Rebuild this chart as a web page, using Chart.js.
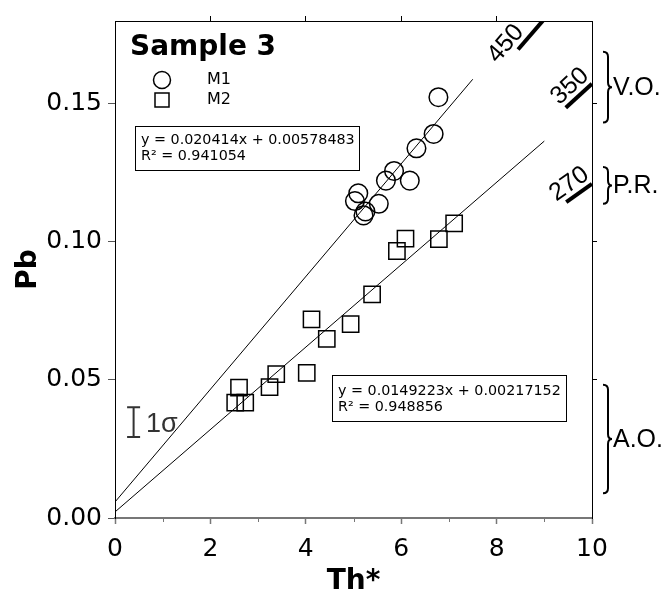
<!DOCTYPE html>
<html>
<head>
<meta charset="utf-8">
<script src="https://cdn.jsdelivr.net/npm/chart.js@4"></script>
<style>
  html, body { margin: 0; padding: 0; background: #fff; }
</style>
</head>
<body>
<canvas id="chart" width="666" height="600"></canvas>
<script>
// sample data
const m1X = [6.78, 6.68, 6.32, 5.85, 5.68, 6.18, 5.10, 5.03, 5.53, 5.21, 5.25];
const m1Y = [0.1524, 0.1391, 0.1339, 0.1257, 0.1222, 0.1222, 0.1176, 0.1148, 0.1138, 0.1096, 0.1110];
const m2X = [7.11, 6.79, 6.09, 5.91, 5.39, 4.12, 4.94, 4.44, 4.02, 3.38, 3.24, 2.60, 2.52, 2.73];
const m2Y = [0.1067, 0.1010, 0.1012, 0.0967, 0.0810, 0.0719, 0.0702, 0.0649, 0.0526, 0.0521, 0.0474, 0.0472, 0.0418, 0.0418];

// regression lines (end points) and their labels
const fit1X = [0, 7.5];
const fit1Y = [0.0058, 0.1589];
const fit2X = [0, 9.0];
const fit2Y = [0.0022, 0.1365];
const fit1Text = ['y = 0.020414x + 0.00578483', 'R² = 0.941054'];
const fit2Text = ['y = 0.0149223x + 0.00217152', 'R² = 0.948856'];

// reference age segments
const ageLabels = ['450', '350', '270'];
const ageX0 = [8.45, 9.45, 9.46];
const ageY0 = [0.1697, 0.1486, 0.1144];
const ageX1 = [9.0, 10.0, 10.0];
const ageY1 = [0.1807, 0.1573, 0.1210];
const ageLabelX = [8.40, 9.72, 9.68];

// zones on the right
const zoneLabels = ['V.O.', 'P.R.', 'A.O.'];
const zoneTop = [0.1689, 0.1271, 0.0483];
const zoneBottom = [0.1432, 0.1138, 0.0090];

const sigmaX = 0.39;
const sigmaY = [0.0293, 0.0401];

const xTicks = [0, 2, 4, 6, 8, 10];
const xMinor = [1, 3, 5, 7, 9];
const yTicks = [0, 0.05, 0.10, 0.15];

const pts = (xs, ys) => xs.map((x, i) => ({x: x, y: ys[i]}));
const hideEnds = ctx => (ctx.tick && (ctx.tick.value === 0 || ctx.tick.value === 10)) ? 'rgba(0,0,0,0)' : '#000';

const extras = {
  id: 'extras',
  afterDraw(chart) {
    const {ctx, chartArea: a, scales: {x, y}} = chart;
    ctx.save();
    ctx.fillStyle = '#000';
    ctx.strokeStyle = '#000';

    // minor ticks on the bottom axis
    ctx.strokeStyle = '#777';
    ctx.lineWidth = 1;
    xMinor.forEach(v => {
      const px = Math.round(x.getPixelForValue(v)) + 0.5;
      ctx.beginPath();
      ctx.moveTo(px, a.bottom + 1);
      ctx.lineTo(px, a.bottom + 4);
      ctx.stroke();
    });
    ctx.strokeStyle = '#000';

    // title
    ctx.font = 'bold 28px "DejaVu Sans"';
    ctx.textAlign = 'left';
    ctx.textBaseline = 'alphabetic';
    ctx.fillText('Sample 3', 130, 55);

    // legend
    ctx.lineWidth = 1.5;
    ctx.beginPath();
    ctx.arc(162, 80, 8.5, 0, Math.PI * 2);
    ctx.stroke();
    ctx.strokeRect(155, 93, 14, 14);
    ctx.font = '16px "DejaVu Sans"';
    ctx.textBaseline = 'middle';
    ctx.fillText('M1', 207, 80);
    ctx.fillText('M2', 207, 100);

    // equation boxes
    ctx.lineWidth = 1;
    ctx.font = '14.3px "DejaVu Sans"';
    ctx.strokeRect(135.5, 126.5, 224, 44);
    ctx.fillText(fit1Text[0], 141, 140);
    ctx.fillText(fit1Text[1], 141, 156);
    ctx.strokeRect(332.5, 375.5, 234, 46);
    ctx.fillText(fit2Text[0], 338, 391);
    ctx.fillText(fit2Text[1], 338, 407);

    // 1 sigma bar
    const sx = x.getPixelForValue(sigmaX);
    const sy0 = y.getPixelForValue(sigmaY[0]);
    const sy1 = y.getPixelForValue(sigmaY[1]);
    ctx.strokeStyle = '#333';
    ctx.lineWidth = 2;
    ctx.beginPath();
    ctx.moveTo(sx, sy0); ctx.lineTo(sx, sy1);
    ctx.moveTo(sx - 6.5, sy0); ctx.lineTo(sx + 6.5, sy0);
    ctx.moveTo(sx - 6.5, sy1); ctx.lineTo(sx + 6.5, sy1);
    ctx.stroke();
    ctx.fillStyle = '#333';
    ctx.font = '27px "Liberation Sans"';
    ctx.textBaseline = 'alphabetic';
    ctx.fillText('1σ', 146, 432);
    ctx.fillStyle = '#000';
    ctx.strokeStyle = '#000';

    // age labels along their segments
    ctx.font = '25px "Liberation Sans"';
    ctx.textAlign = 'center';
    ctx.textBaseline = 'middle';
    ageLabels.forEach((t, i) => {
      const x0 = x.getPixelForValue(ageX0[i]), y0 = y.getPixelForValue(ageY0[i]);
      const x1 = x.getPixelForValue(ageX1[i]), y1 = y.getPixelForValue(ageY1[i]);
      const ang = Math.atan2(y1 - y0, x1 - x0);
      const lx = x.getPixelForValue(ageLabelX[i]);
      const k = (lx - x0) / (x1 - x0);
      const cx = x0 + k * (x1 - x0) + 13 * Math.sin(ang);
      const cy = y0 + k * (y1 - y0) - 13 * Math.cos(ang);
      ctx.save();
      ctx.translate(cx, cy);
      ctx.rotate(ang);
      ctx.fillText(t, 0, 0);
      ctx.restore();
    });

    // braces with zone names
    ctx.lineWidth = 2;
    ctx.textAlign = 'left';
    zoneLabels.forEach((t, i) => {
      const top = y.getPixelForValue(zoneTop[i]);
      const bot = y.getPixelForValue(zoneBottom[i]);
      const mid = (top + bot) / 2;
      const x0 = a.right + 11, x1 = a.right + 16, xt = a.right + 20;
      ctx.beginPath();
      ctx.moveTo(x0, top);
      ctx.quadraticCurveTo(x1, top, x1, top + 5);
      ctx.lineTo(x1, mid - 5);
      ctx.quadraticCurveTo(x1, mid, xt, mid);
      ctx.quadraticCurveTo(x1, mid, x1, mid + 5);
      ctx.lineTo(x1, bot - 5);
      ctx.quadraticCurveTo(x1, bot, x0, bot);
      ctx.stroke();
      ctx.fillText(t, xt + 1, mid + 1);
    });
    ctx.restore();
  }
};

const lineSet = (xs, ys, w) => ({
  type: 'scatter',
  data: pts(xs, ys),
  showLine: true,
  borderColor: '#000',
  borderWidth: w,
  borderCapStyle: 'butt',
  pointRadius: 0,
  pointHoverRadius: 0,
  fill: false
});

new Chart(document.getElementById('chart'), {
  type: 'scatter',
  data: {
    datasets: [
      lineSet(fit1X, fit1Y, 1),
      lineSet(fit2X, fit2Y, 1),
      ...ageLabels.map((t, i) => lineSet([ageX0[i], ageX1[i]], [ageY0[i], ageY1[i]], 4)),
      {
        label: 'M1',
        data: pts(m1X, m1Y),
        pointStyle: 'circle',
        pointRadius: 9.3,
        pointBorderWidth: 1.5,
        pointBorderColor: '#000',
        pointBackgroundColor: 'rgba(0,0,0,0)'
      },
      {
        label: 'M2',
        data: pts(m2X, m2Y),
        pointStyle: 'rect',
        pointRadius: 11.5,
        pointBorderWidth: 1.5,
        pointBorderColor: '#000',
        pointBackgroundColor: 'rgba(0,0,0,0)'
      }
    ]
  },
  options: {
    responsive: false,
    animation: false,
    devicePixelRatio: 1,
    layout: { padding: 0 },
    plugins: { legend: { display: false }, tooltip: { enabled: false }, title: { display: false } },
    scales: {
      x: {
        type: 'linear', position: 'bottom', min: 0, max: 10,
        afterBuildTicks: s => { s.ticks = xTicks.map(v => ({value: v})); },
        ticks: { color: '#000', font: { family: 'DejaVu Sans', size: 25 }, padding: 10, maxRotation: 0 },
        grid: { drawOnChartArea: false, tickLength: 6, tickColor: '#777', tickWidth: 1.5 },
        border: { color: '#777', width: 2 },
        title: { display: true, text: 'Th*', color: '#000', font: { family: 'DejaVu Sans', size: 28, weight: 'bold' }, padding: { top: 0, bottom: 1 } },
        afterFit: s => { s.height = 82; }
      },
      x2: {
        type: 'linear', position: 'top', min: 0, max: 10,
        afterBuildTicks: s => { s.ticks = xTicks.map(v => ({value: v})); },
        ticks: { display: false },
        grid: { drawOnChartArea: false, tickLength: 5, tickColor: hideEnds },
        border: { color: '#000', width: 1 },
        afterFit: s => { s.height = 15; }
      },
      y: {
        type: 'linear', position: 'left', min: 0, max: 0.18,
        afterBuildTicks: s => { s.ticks = yTicks.map(v => ({value: v})); },
        ticks: { color: '#000', font: { family: 'DejaVu Sans', size: 25 }, padding: 6, callback: v => v.toFixed(2) },
        grid: { drawOnChartArea: false, tickLength: 7, tickColor: '#555' },
        border: { color: '#000', width: 1 },
        title: { display: true, text: 'Pb', color: '#000', font: { family: 'DejaVu Sans', size: 28, weight: 'bold' }, padding: { top: 12, bottom: 0 } },
        afterFit: s => { s.width = 115; }
      },
      y2: {
        type: 'linear', position: 'right', min: 0, max: 0.18,
        afterBuildTicks: s => { s.ticks = yTicks.map(v => ({value: v})); },
        ticks: { display: false },
        grid: { drawOnChartArea: false, tickLength: 5, tickColor: ctx => (ctx.tick && ctx.tick.value === 0) ? 'rgba(0,0,0,0)' : '#000' },
        border: { color: '#000', width: 1 },
        afterFit: s => { s.width = 74; }
      }
    }
  },
  plugins: [extras]
});
</script>
</body>
</html>
